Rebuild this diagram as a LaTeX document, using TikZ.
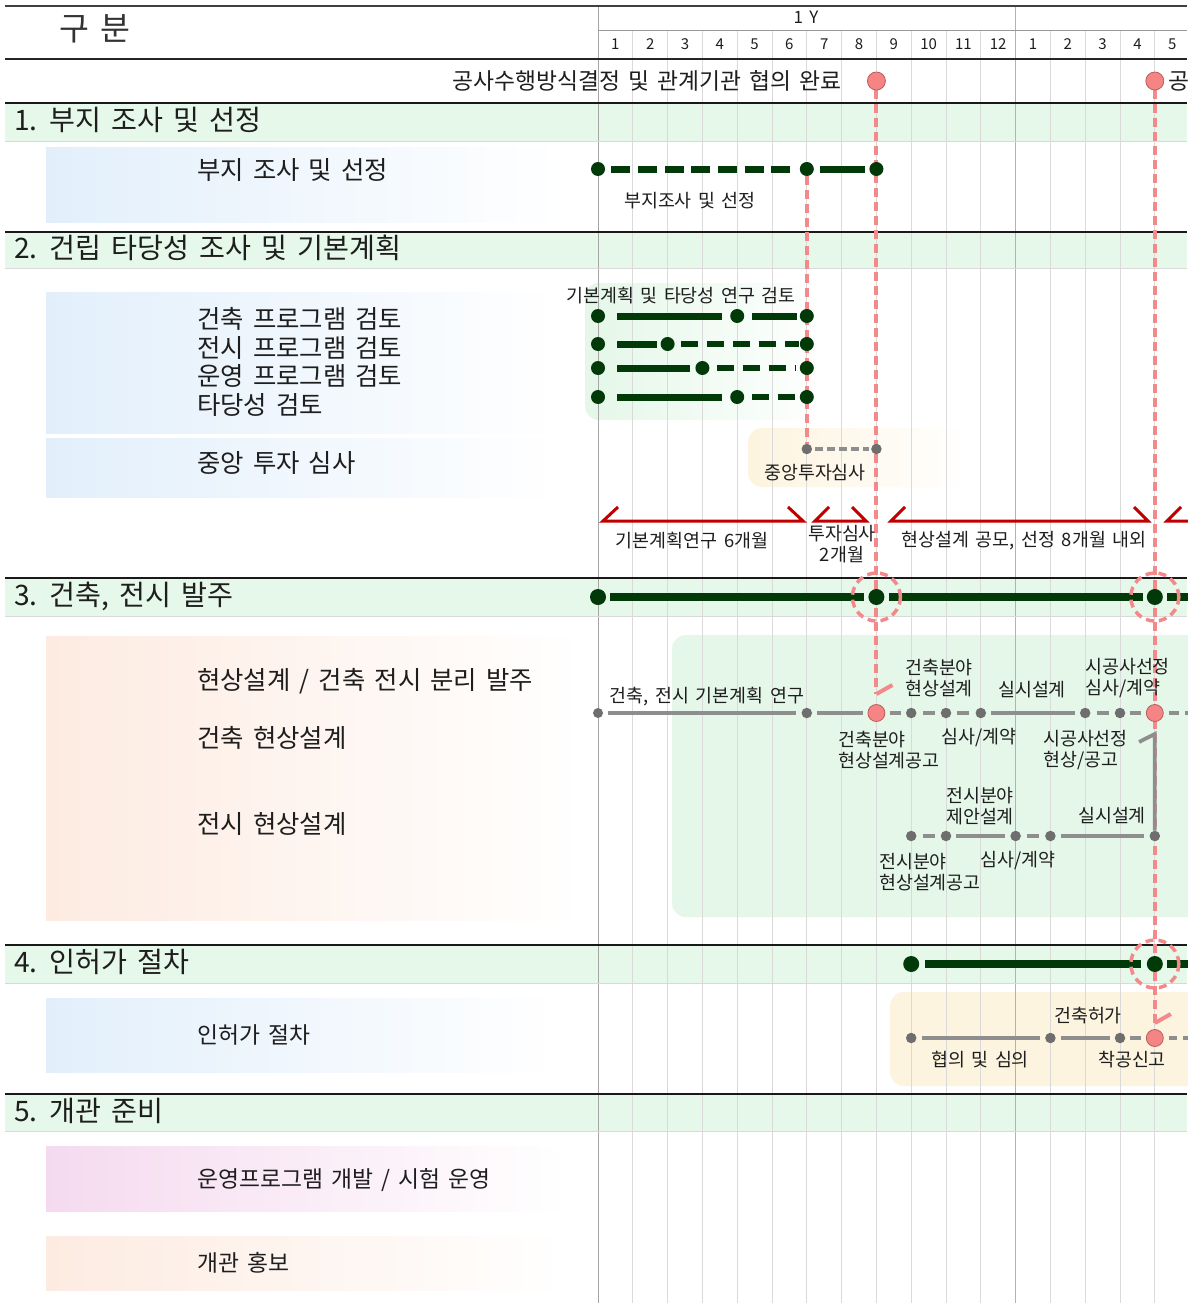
\documentclass[tikz,border=0pt]{standalone}
\usepackage{fontspec}
\setmainfont{Noto Sans CJK KR}[WordSpace=1.6]
\usetikzlibrary{calc}
\definecolor{dkgreen}{HTML}{013A08}
\definecolor{pinkc}{HTML}{F58585}
\definecolor{pinkd}{HTML}{B95C5C}
\definecolor{pinkl}{HTML}{F4898B}
\definecolor{grayc}{HTML}{6E6E6E}
\definecolor{grayl}{HTML}{8E8E8E}
\definecolor{arrred}{HTML}{C00000}
\definecolor{band}{HTML}{E6F8E9}
\definecolor{gridc}{HTML}{DADADA}
\definecolor{txt}{HTML}{1E1E1E}
\definecolor{subblue}{HTML}{E2EFFB}
\definecolor{subpeach}{HTML}{FDEBE1}
\definecolor{subpink}{HTML}{F5DAEF}
\definecolor{boxgreen}{HTML}{E4F7E8}
\definecolor{boxyellow}{HTML}{FDF4DF}
\newcommand{\mx}[1]{(598+34.8*(#1))}
\pgfdeclarelayer{bg}
\pgfdeclarelayer{mid}
\pgfsetlayers{bg,mid,main}
\begin{document}
\begin{tikzpicture}[x=1pt,y=-1pt,
  gdot/.style={circle,fill=dkgreen,inner sep=0pt,minimum size=14pt},
  gdotL/.style={circle,fill=dkgreen,inner sep=0pt,minimum size=16pt},
  graydot/.style={circle,fill=grayc,inner sep=0pt,minimum size=10.5pt},
  pinkdot/.style={circle,fill=pinkc,draw=pinkd,line width=0.8pt,inner sep=0pt,minimum size=17pt},
  pinkring/.style={circle,draw=pinkl,dash pattern=on 8pt off 5pt,line width=3.5pt,minimum size=48pt,inner sep=0pt},
  gbar/.style={dkgreen,line width=7pt},
  gbarw/.style={dkgreen,line width=8pt},
  gbardash/.style={dkgreen,line width=7pt,dash pattern=on 19pt off 7.7pt},
  gbardtwo/.style={dkgreen,line width=6.5pt,dash pattern=on 17pt off 9pt},
  graybar/.style={grayl,line width=3.8pt},
  graydash/.style={grayl,line width=4pt,dash pattern=on 8pt off 4pt},
  pinkv/.style={pinkl,line width=4pt,dash pattern=on 9pt off 5pt},
  pinktick/.style={pinkl,line width=4pt},
  bracket/.style={arrred,line width=3pt},
  lbl/.style={font=\fontsize{18.4}{21}\selectfont,text=txt,inner sep=0pt},
  mlbl/.style={font=\fontsize{15}{18}\selectfont,text=txt,inner sep=0pt},
  sectitle/.style={font=\fontsize{28.2}{32}\selectfont,text=txt,anchor=west,inner sep=0pt},
  subtxt/.style={font=\fontsize{25.4}{28.7}\selectfont,text=txt,anchor=west,inner sep=0pt,align=left},
  subtxts/.style={font=\fontsize{22.8}{26}\selectfont,text=txt,anchor=west,inner sep=0pt,align=left}
]
\useasboundingbox (0,0) rectangle (1187,1303);
\clip (0,0) rectangle (1187,1303);

\begin{pgfonlayer}{bg}
\fill[white] (0,0) rectangle (1187,1303);
% section bands
\foreach \a/\b in {104/141,233/268,579/616,946/983,1095/1131}
  \fill[band] (5,\a) rectangle (1187,\b);
% sub boxes
\shade[left color=subblue,right color=white] (46,147) rectangle (565,222);
\shade[left color=subblue,right color=white] (46,292) rectangle (560,433);
\shade[left color=subblue,right color=white] (46,438) rectangle (560,497);
\shade[left color=subpeach,right color=white] (46,636) rectangle (585,920);
\shade[left color=subblue,right color=white] (46,998) rectangle (560,1072);
\shade[left color=subpink,right color=white] (46,1146) rectangle (565,1211);
\shade[left color=subpeach,right color=white] (46,1236) rectangle (565,1290);
% rounded boxes
\shade[rounded corners=14pt,left color=boxgreen,right color=white] (585,283) rectangle (830,420);
\shade[rounded corners=14pt,left color=boxyellow,right color=white] (748,428) rectangle (968,487);
\fill[rounded corners=14pt,boxgreen] (672,635) rectangle (1210,917);
\fill[rounded corners=14pt,boxyellow] (890,992) rectangle (1210,1086);
% grid
\foreach \k in {1,...,11,13,14,15,16}
  \draw[gridc,line width=0.8pt] ({\mx{\k}},31) -- ({\mx{\k}},1303);
\draw[black!35,line width=1pt] ({\mx{0}},6) -- ({\mx{0}},1303);
\draw[black!30,line width=1pt] ({\mx{12}},6) -- ({\mx{12}},1303);
% rules
\draw[black!75,line width=2pt] (5,6) -- (1187,6);
\draw[black!40,line width=1pt] (598,31) -- (1187,31);
\draw[black!85,line width=2pt] (5,59) -- (1187,59);
\foreach \y in {103,232,578,945,1094}
  \draw[black!90,line width=2pt] (5,\y) -- (1187,\y);
\foreach \y in {141,268,616,983,1131}
  \draw[black!15,line width=0.8pt] (5,\y) -- (1187,\y);
\end{pgfonlayer}

% ---------- header texts
\node[font=\fontsize{32.5}{36}\selectfont,text=black!80,inner sep=0pt] (hdr) at (95,29) {구 분};
\node[font=\fontsize{17}{20}\selectfont,text=txt,inner sep=0pt] (yr) at (806,17) {1 Y};
\foreach \i in {0,...,16}{
  \pgfmathtruncatemacro\mm{mod(\i,12)+1}
  \node[mlbl] (mon\i) at ({\mx{\i+0.5}},44) {\mm};
}
\node[font=\fontsize{22.8}{26}\selectfont,text=txt,anchor=east,inner sep=0pt] (mstxt) at (842,81) {공사수행방식결정 및 관계기관 협의 완료};
\node[font=\fontsize{22.8}{26}\selectfont,text=txt,anchor=west,inner sep=0pt] (mstxt2) at (1168,81) {공};
\node[pinkdot,minimum size=18pt] (ms1) at ({\mx{8}},81) {};
\node[pinkdot,minimum size=18pt] (ms2) at ({\mx{16}},81) {};

% ---------- section titles
\node[sectitle] (t1) at (14,120) {1. 부지 조사 및 선정};
\node[sectitle] (t2) at (14,248) {2. 건립 타당성 조사 및 기본계획};
\node[sectitle] (t3) at (14,596) {3. 건축, 전시 발주};
\node[sectitle] (t4) at (14,962) {4. 인허가 절차};
\node[sectitle] (t5) at (14,1111) {5. 개관 준비};

% ---------- sub texts
\node[subtxt] (u1) at (197,170) {부지 조사 및 선정};
\node[subtxt] (u2) at (197,362) {건축 프로그램 검토\\전시 프로그램 검토\\운영 프로그램 검토\\타당성 검토};
\node[subtxt] (u3) at (197,463) {중앙 투자 심사};
\node[subtxt] (u4) at (197,681) {현상설계 / 건축 전시 분리 발주};
\node[subtxt] (u5) at (197,738) {건축 현상설계};
\node[subtxt] (u6) at (197,824) {전시 현상설계};
\node[subtxts] (u7) at (197,1035) {인허가 절차};
\node[subtxts] (u8) at (197,1180) {운영프로그램 개발 / 시험 운영};
\node[subtxts] (u9) at (197,1263) {개관 홍보};

% ---------- section 1
\node[gdot] (a0) at ({\mx{0}},169) {};
\node[gdot] (a6) at ({\mx{6}},169) {};
\node[gdot] (a8) at ({\mx{8}},169) {};
\node[lbl] (la) at (690,201) {부지조사 및 선정};

% ---------- section 2
\node[lbl] (lb) at (681,296) {기본계획 및 타당성 연구 검토};
\foreach \r/\y/\m in {1/316/4,2/344/2,3/368/3,4/397/4}{
  \node[gdot] (b\r s) at ({\mx{0}},\y) {};
  \node[gdot] (b\r m) at ({\mx{\m}},\y) {};
  \node[gdot] (b\r e) at ({\mx{6}},\y) {};
}
\node[graydot] (c6) at ({\mx{6}},449) {};
\node[graydot] (c8) at ({\mx{8}},449) {};
\node[lbl] (lc) at (815,473) {중앙투자심사};

\node[lbl] (lp1) at (692,541) {기본계획연구 6개월};
\node[lbl,align=center] (lp2) at (842,544) {투자심사\\2개월};
\node[lbl] (lp3) at (1024,541) {현상설계 공모, 선정 8개월 내외};

% ---------- section 3
\node[gdotL] (d0) at ({\mx{0}},597) {};
\node[gdotL] (d8) at ({\mx{8}},597) {};
\node[gdotL] (d16) at ({\mx{16}},597) {};
\coordinate (dE) at (1195,597);
\node[pinkring] (r1) at (d8) {};
\node[pinkring] (r2) at (d16) {};

\node[graydot,minimum size=10pt] (e0) at ({\mx{0}},713) {};
\node[graydot] (e6) at ({\mx{6}},713) {};
\node[pinkdot] (e8) at ({\mx{8}},713) {};
\node[graydot] (e9) at ({\mx{9}},713) {};
\node[graydot] (e10) at ({\mx{10}},713) {};
\node[graydot] (e11) at ({\mx{11}},713) {};
\node[graydot] (e14) at ({\mx{14}},713) {};
\node[graydot] (e15) at ({\mx{15}},713) {};
\node[pinkdot] (e16) at ({\mx{16}},713) {};
\coordinate (eE) at (1195,713);

\node[graydot] (f9) at ({\mx{9}},836) {};
\node[graydot] (f10) at ({\mx{10}},836) {};
\node[graydot] (f12) at ({\mx{12}},836) {};
\node[graydot] (f13) at ({\mx{13}},836) {};
\node[graydot] (f16) at ({\mx{16}},836) {};

\node[lbl] (le1) at (707,697) {건축, 전시 기본계획 연구};
\node[lbl,align=left,anchor=west] (le2) at (905,678) {건축분야\\현상설계};
\node[lbl] (le3) at (1032,690) {실시설계};
\node[lbl,align=left,anchor=west] (le4) at (1085,678) {시공사선정\\심사/계약};
\node[lbl,align=left,anchor=west] (le5) at (838,750) {건축분야\\현상설계공고};
\node[lbl] (le6) at (979,738) {심사/계약};
\node[lbl,align=left,anchor=west] (le7) at (1043,750) {시공사선정\\현상/공고};

\node[lbl,align=left,anchor=west] (lf1) at (946,806) {전시분야\\제안설계};
\node[lbl] (lf2) at (1112,816) {실시설계};
\node[lbl,align=left,anchor=west] (lf3) at (879,872) {전시분야\\현상설계공고};
\node[lbl] (lf4) at (1018,861) {심사/계약};

% ---------- section 4
\node[gdotL] (g9) at ({\mx{9}},964) {};
\node[gdotL] (g16) at ({\mx{16}},964) {};
\coordinate (gE) at (1195,964);
\node[pinkring] (r3) at (g16) {};

\node[graydot] (h9) at ({\mx{9}},1038) {};
\node[graydot] (h13) at ({\mx{13}},1038) {};
\node[graydot] (h15) at ({\mx{15}},1038) {};
\node[pinkdot] (h16) at ({\mx{16}},1038) {};
\coordinate (hE) at (1195,1038);
\node[lbl] (lh1) at (1088,1016) {건축허가};
\node[lbl] (lh2) at (980,1060) {협의 및 심의};
\node[lbl] (lh3) at (1132,1060) {착공신고};

% ---------- connectors (middle layer)
\begin{pgfonlayer}{mid}
% pink verticals
\coordinate (k1) at ({\mx{8}},694);
\coordinate (k1b) at ({\mx{8}+16},685);
\coordinate (k2) at ({\mx{16}},1023);
\coordinate (k2b) at ({\mx{16}+16},1014);
\draw[pinkv] (ms1) -- (k1);
\draw[pinktick] (k1) -- (k1b);
\draw[pinkv] (ms2) -- (k2);
\draw[pinktick] (k2) -- (k2b);
\draw[pinkv] (a6) -- (c6);
% section 1 bars
\draw[gbardash,shorten <=6pt,shorten >=10pt] (a0) -- (a6);
\draw[gbar,shorten <=6pt,shorten >=4pt] (a6) -- (a8);
% section 2 bars
\draw[gbar,shorten <=12pt,shorten >=8pt] (b1s) -- (b1m);
\draw[gbar,shorten <=8pt,shorten >=3pt] (b1m) -- (b1e);
\draw[gbar,shorten <=12pt,shorten >=3pt] (b2s) -- (b2m);
\draw[gbardtwo,shorten <=6pt,shorten >=1pt] (b2m) -- (b2e);
\draw[gbar,shorten <=12pt,shorten >=5pt] (b3s) -- (b3m);
\draw[gbardtwo,shorten <=7pt,shorten >=4pt] (b3m) -- (b3e);
\draw[gbar,shorten <=12pt,shorten >=8pt] (b4s) -- (b4m);
\draw[gbardtwo,shorten <=8pt,shorten >=3pt] (b4m) -- (b4e);
\draw[graydash,shorten <=3pt,shorten >=2pt] (c6) -- (c8);
% brackets
\draw[bracket] (618,507) -- (603,521) -- (803,521) -- (788,507);
\draw[bracket] (829,507) -- (815,521) -- (866,521) -- (852,507);
\draw[bracket] (905,507) -- (891,521) -- (1148,521) -- (1134,507);
\draw[bracket] (1181,507) -- (1167,521) -- (1195,521);
% section 3 band bar
\draw[gbarw,shorten <=4pt,shorten >=4pt] (d0) -- (d8);
\draw[gbarw,shorten <=4pt,shorten >=4pt] (d8) -- (d16);
\draw[gbarw,shorten <=4pt] (d16) -- (dE);
% row e
\draw[graybar,shorten <=5pt,shorten >=5pt] (e0) -- (e6);
\draw[graybar,shorten <=5pt,shorten >=5pt] (e6) -- (e8);
\draw[graybar,shorten <=5pt,shorten >=5pt] (e8) -- (e9);
\draw[graybar,shorten <=6pt,shorten >=6pt] (e9) -- (e10);
\draw[graybar,shorten <=6pt,shorten >=6pt] (e10) -- (e11);
\draw[graybar,shorten <=5pt,shorten >=5pt] (e11) -- (e14);
\draw[graybar,shorten <=6pt,shorten >=6pt] (e14) -- (e15);
\draw[graybar,shorten <=5pt,shorten >=5pt] (e15) -- (e16);
\draw[graybar,dash pattern=on 10pt off 6pt,shorten <=5pt] (e16) -- (eE);
% hook
\draw[graybar] (1139,742) -- ({\mx{16}},734) -- (f16);
% row f
\draw[graybar,shorten <=6pt,shorten >=6pt] (f9) -- (f10);
\draw[graybar,shorten <=5pt,shorten >=5pt] (f10) -- (f12);
\draw[graybar,shorten <=6pt,shorten >=6pt] (f12) -- (f13);
\draw[graybar,shorten <=5pt,shorten >=5pt] (f13) -- (f16);
% section 4
\draw[gbarw,shorten <=6pt,shorten >=6pt] (g9) -- (g16);
\draw[gbarw,shorten <=4pt] (g16) -- (gE);
\draw[graybar,shorten <=5pt,shorten >=5pt] (h9) -- (h13);
\draw[graybar,shorten <=5pt,shorten >=5pt] (h13) -- (h15);
\draw[graybar,shorten <=5pt,shorten >=5pt] (h15) -- (h16);
\draw[graybar,dash pattern=on 8pt off 6pt,shorten <=5pt] (h16) -- (hE);
\end{pgfonlayer}
\end{tikzpicture}
\end{document}
